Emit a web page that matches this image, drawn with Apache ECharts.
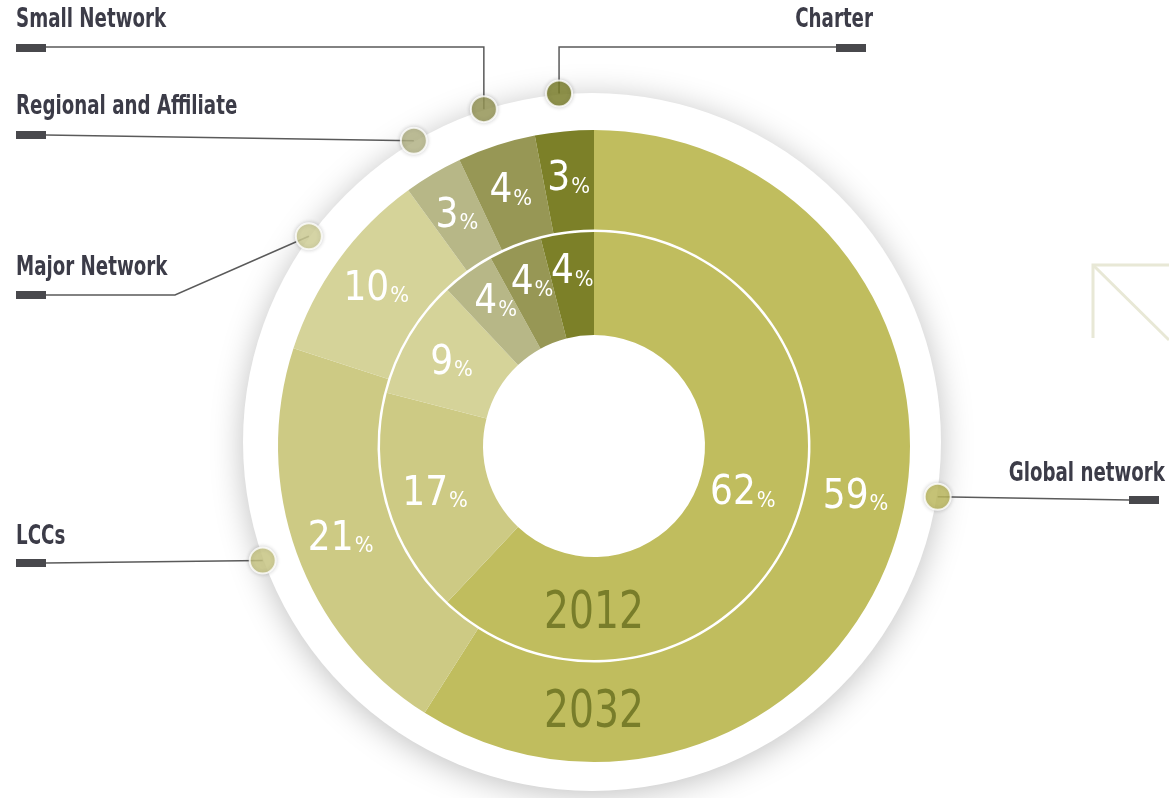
<!DOCTYPE html>
<html><head><meta charset="utf-8">
<script src="https://cdn.jsdelivr.net/npm/echarts@6/dist/echarts.min.js"></script>
<style>html,body{margin:0;padding:0;background:#fff}#c{width:1169px;height:798px}</style>
</head><body><div id="c"></div>
<script>
// ---- data ----
const categories = ['Global network', 'LCCs', 'Major Network', 'Regional and Affiliate', 'Small Network', 'Charter'];
const share2012 = [62, 17, 9, 4, 4, 4];
const share2032 = [59, 21, 10, 3, 4, 3];
const yearLabels = ['2012', '2032'];

// ---- style / layout ----
const palette = ['#C0BD5E', '#CDCA84', '#D5D399', '#B7B787', '#979755', '#7C8028'];
const NARROW = "'Liberation Sans Narrow','DejaVu Sans Condensed','Arial Narrow',sans-serif";
const CENTER = [594, 446];
const HALO_CENTER = [592, 442];
const DOT_R = 350;

const rich = {
  n: {fontFamily: NARROW, fontSize: 40, color: '#fff', verticalAlign: 'bottom', lineHeight: 44},
  p: {fontFamily: NARROW, fontSize: 22, color: '#fff', verticalAlign: 'bottom', lineHeight: 40, padding: [0, 0, 2, 1]}
};
function pctLabel(p) { return '{n|' + p.value + '}{p|%}'; }

// dot angles: middle of each 2032 slice (global network dot aligned with its label)
const mids = [];
let acc = 0;
share2032.forEach(v => { mids.push(acc + v / 2); acc += v; });
const dotAngles = mids.map((m, i) => i === 0 ? 27.5 : m);

// callout layout (label text, marker, leader path ending at the dot)
const callouts = [
  {tx: 1165, ty: 474, align: 'right', rect: [1129, 496], path: d => [[1129, 500], d]},
  {tx: 16, ty: 537, align: 'left', rect: [16, 559], path: d => [[46, 563], d]},
  {tx: 16, ty: 268, align: 'left', rect: [16, 291], path: d => [[46, 295], [175, 295], d]},
  {tx: 16, ty: 107, align: 'left', rect: [16, 131], path: d => [[46, 135], d]},
  {tx: 16, ty: 20, align: 'left', rect: [16, 44], path: d => [[46, 47], [d[0], 47], d]},
  {tx: 873, ty: 20, align: 'right', rect: [836, 44], path: d => [[836, 47], [d[0], 47], d]}
];

const chart = echarts.init(document.getElementById('c'), null, {renderer: 'canvas'});

function pieSeries(name, values, radius, layout) {
  return {
    type: 'pie', name: name, center: CENTER, radius: radius,
    startAngle: 90, clockwise: true, silent: true, avoidLabelOverlap: false,
    itemStyle: {borderWidth: 0},
    data: categories.map((c, i) => ({name: c, value: values[i], itemStyle: {color: palette[i]}})),
    label: {show: true, position: 'inside', formatter: pctLabel, rich: rich},
    labelLine: {show: false},
    labelLayout: layout,
    z: 3
  };
}

const graphics = [];
// decorative arrow on the right
graphics.push({type: 'polyline', z: 0, silent: true, shape: {points: [[1093, 338], [1093, 265], [1169, 265]]}, style: {stroke: '#E8E8D6', lineWidth: 3, fill: null}});
graphics.push({type: 'line', z: 0, silent: true, shape: {x1: 1093, y1: 265, x2: 1169, y2: 340}, style: {stroke: '#E8E8D6', lineWidth: 3}});
callouts.forEach((c, i) => {
  graphics.push({type: 'rect', z: 11, silent: true, shape: {x: c.rect[0], y: c.rect[1], width: 30, height: 8}, style: {fill: '#48484c'}});
  graphics.push({type: 'text', z: 11, silent: true, x: c.tx, y: c.ty, scaleX: 0.78, style: {
    text: categories[i], fill: '#3c3c48', fontFamily: NARROW, fontWeight: 'bold', fontSize: 26,
    align: c.align, textAlign: c.align, verticalAlign: 'middle', textVerticalAlign: 'middle'}});
});
const yearPos = [[594, 614], [594, 713]];
yearLabels.forEach((y, k) => {
  graphics.push({type: 'text', z: 100, silent: true, x: yearPos[k][0], y: yearPos[k][1], scaleX: 0.84, style: {
    text: y, fill: '#787D2A', fontFamily: NARROW, fontSize: 52,
    align: 'center', textAlign: 'center', verticalAlign: 'middle', textVerticalAlign: 'middle'}});
});

const option = {
  backgroundColor: '#fff',
  animation: false,
  polar: {center: HALO_CENTER, radius: DOT_R},
  angleAxis: {type: 'value', min: 0, max: 100, startAngle: 90, clockwise: true, show: false},
  radiusAxis: {type: 'value', min: 0, max: DOT_R, show: false},
  graphic: {elements: graphics},
  series: [
    {
      type: 'pie', name: 'halo', center: HALO_CENTER, radius: [0, 349], silent: true,
      label: {show: false}, labelLine: {show: false},
      data: [{value: 1, itemStyle: {color: '#fff', borderWidth: 0, shadowBlur: 32, shadowColor: 'rgba(0,0,0,0.25)', shadowOffsetY: 4}}],
      z: 1
    },
    pieSeries('2012', share2012, [111, 214], function (p) {
      if (p.dataIndex === 0) return {dx: -5, dy: -15, hideOverlap: false};
      if (p.dataIndex >= 3) return {dx: -1, dy: -11, hideOverlap: false};
      return {hideOverlap: false};
    }),
    pieSeries('2032', share2032, [216.5, 316], function (p) {
      if (p.dataIndex === 0) return {dx: 3, dy: -26, hideOverlap: false};
      return {hideOverlap: false};
    }),
    {
      type: 'custom', coordinateSystem: 'polar', silent: true, clip: false, z: 10,
      data: dotAngles.map(a => [DOT_R, a]),
      renderItem: function (params, api) {
        const d = api.coord([api.value(0), api.value(1)]);
        return {type: 'polyline', shape: {points: callouts[params.dataIndex].path(d)},
          style: {stroke: '#5a5a5a', lineWidth: 1.5, fill: null}};
      }
    },
    {
      type: 'scatter', coordinateSystem: 'polar', silent: true, z: 20, clip: false,
      symbolSize: 26,
      data: dotAngles.map((a, i) => ({value: [DOT_R, a], itemStyle: {color: palette[i]}})),
      itemStyle: {borderColor: '#fff', borderWidth: 2, shadowBlur: 4, shadowColor: 'rgba(0,0,0,0.2)'}
    }
  ]
};
chart.setOption(option);
</script>
</body></html>
